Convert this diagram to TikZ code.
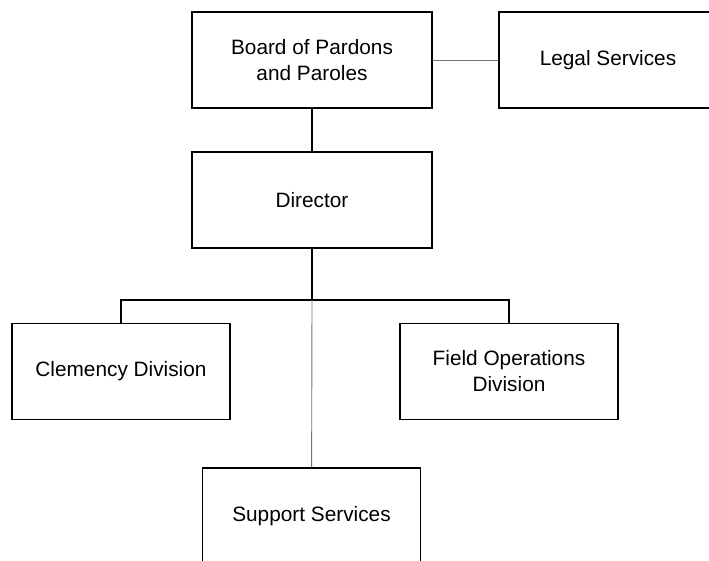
\documentclass[tikz,border=0pt]{standalone}
\usepackage{fontspec}
\setmainfont{Liberation Sans}

\begin{document}
\begin{tikzpicture}[x=1pt,y=-1pt,
        box/.style={draw,rectangle,line width=1.3pt,minimum width=240pt,minimum height=96pt,
          inner sep=0pt,align=center,font=\fontsize{20.8}{26}\selectfont},
        narrow/.style={box,minimum width=218pt},
        link/.style={line width=1.3pt},
        faint/.style={line width=0.9pt,black!55}]
        \useasboundingbox (0,0) rectangle (709,560);

        \path
        (312,60) node[box](board) {Board of Pardons\\and Paroles}
        (608,60) node[narrow](legal) {Legal Services}
        (312,200) node[box](director) {Director}
        ;
        \draw[faint] (board) -- (legal);
        \draw[link] (board) -- (director);

        \path
        (121,371.5) node[narrow](clemency) {Clemency Division}
        (509,371.5) node[narrow](field) {Field Operations\\Division}
        (312,300) coordinate(bar)
        (311.5,516) node[narrow](support) {Support Services}
        ;
        \draw[link] (director) -- (bar);
        \draw[link] (clemency.north) |- (bar) -| (field.north);
        \draw[faint] (bar) -- (support);
      \end{tikzpicture}
\end{document}
